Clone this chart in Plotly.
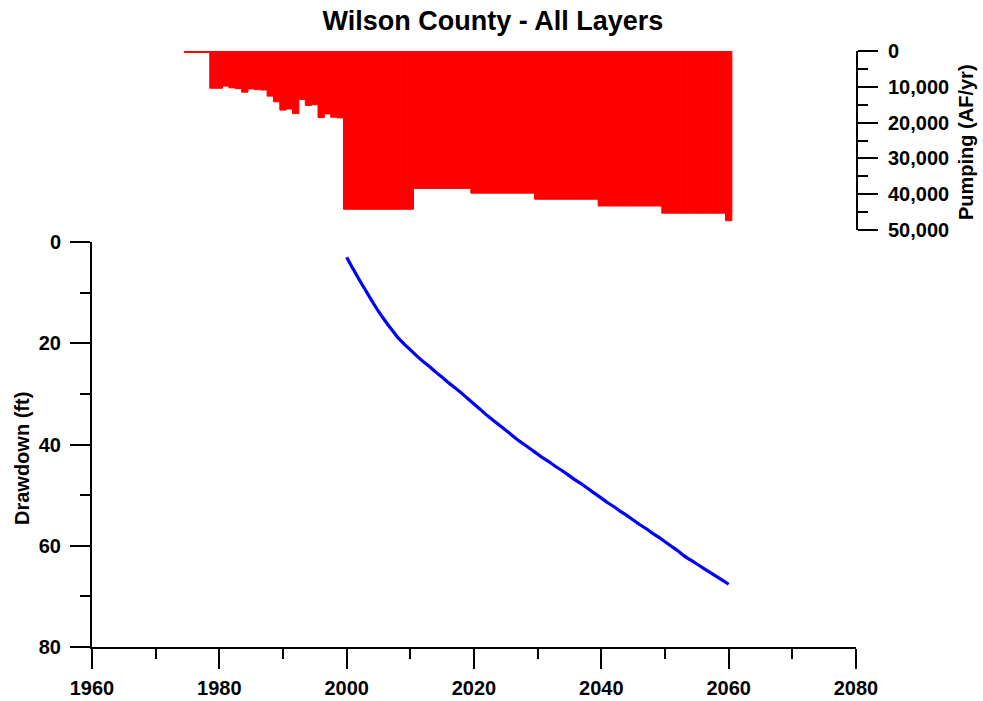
import plotly.graph_objects as go

# ---- Data ----
pump_years = list(range(1975, 2061))
pump_values = [
    400, 400, 400, 400,                 # 1975-1978
    10400, 10400, 9800, 10300, 10500,   # 1979-1983
    11500, 10600, 10800, 10900, 12600,  # 1984-1988
    14200, 16500, 16200, 17500, 13500,  # 1989-1993
    15200, 15000, 18600, 17600, 18500,  # 1994-1998
    18700,                              # 1999
] + [44200] * 11 + [38400] * 9 + [39700] * 10 + [41400] * 10 + [43300] * 10 + [45300] * 10 + [47400]

dd_years = list(range(2000, 2061))
dd_values = [
    3.0, 5.3, 7.5, 9.6, 11.7, 13.7, 15.5, 17.2, 18.8, 20.1,
    21.3, 22.5, 23.6, 24.6, 25.7, 26.7, 27.8, 28.8, 29.8, 30.9,
    32.0, 33.1, 34.2, 35.2, 36.2, 37.2, 38.2, 39.2, 40.1, 41.0,
    41.9, 42.8, 43.6, 44.5, 45.3, 46.2, 47.1, 47.9, 48.8, 49.7,
    50.6, 51.5, 52.3, 53.2, 54.0, 54.9, 55.8, 56.6, 57.5, 58.3,
    59.2, 60.1, 61.0, 62.0, 62.8, 63.6, 64.4, 65.2, 66.0, 66.8,
    67.6,
]

title_text = "Wilson County - All Layers"
left_title = "Drawdown (ft)"
right_title = "Pumping (AF/yr)"
FONT = "Liberation Sans"

fig = go.Figure()
fig.add_trace(go.Bar(
    x=pump_years, y=pump_values, width=1,
    marker=dict(color="#FF0000", line=dict(color="#FF0000", width=1)),
    xaxis="x2", yaxis="y2", showlegend=False,
))
fig.add_trace(go.Scatter(
    x=dd_years, y=dd_values, mode="lines",
    line=dict(color="#0000FF", width=3.2, shape="spline", smoothing=0.8),
    xaxis="x", yaxis="y", showlegend=False,
))

tickfont = dict(family=FONT, size=20, color="black", weight="bold")
titlefont = dict(family=FONT, size=20, color="black", weight="bold")

W, H = 983, 701
L, R, T, B = 92, W - 856, 51, H - 647
plot_w = W - L - R
plot_h = H - T - B
base = 647
dom_bottom_top = (base - 242) / plot_h
dom_top_bottom = (base - 230) / plot_h


def px(xp):
    return (xp - L) / plot_w


def py(yp):
    return (base - yp) / plot_h


fig.update_layout(
    width=W, height=H,
    margin=dict(l=L, r=R, t=T, b=B, autoexpand=False),
    paper_bgcolor="white", plot_bgcolor="white",
    title=dict(text=title_text, x=493 / W, xanchor="center", y=1 - 21 / H, yanchor="middle",
               font=dict(family=FONT, size=27, color="black", weight="bold")),
    xaxis=dict(
        domain=[0, 1], range=[1960, 2080], dtick=20, tick0=1960,
        showgrid=False, zeroline=False, showline=True, linecolor="black", linewidth=2,
        ticks="outside", ticklen=20, tickwidth=2, tickcolor="black",
        minor=dict(dtick=10, ticks="outside", ticklen=10, tickwidth=2, tickcolor="black", showgrid=False),
        tickfont=tickfont, ticklabelstandoff=2, anchor="y", automargin=False,
    ),
    yaxis=dict(
        domain=[0, dom_bottom_top], range=[80, 0], dtick=20, tick0=0,
        showgrid=False, zeroline=False, showline=True, linecolor="black", linewidth=2,
        ticks="outside", ticklen=20, tickwidth=2, tickcolor="black",
        minor=dict(dtick=10, ticks="outside", ticklen=10, tickwidth=2, tickcolor="black", showgrid=False),
        tickfont=tickfont, ticklabelstandoff=5, anchor="x", automargin=False,
    ),
    xaxis2=dict(domain=[0, 1], range=[1960, 2080], visible=False, anchor="y2"),
    yaxis2=dict(
        domain=[dom_top_bottom, 1], range=[50000, 0], dtick=10000, tick0=0,
        side="right", anchor="x2", automargin=False,
        showgrid=False, zeroline=False, showline=True, linecolor="black", linewidth=2,
        ticks="outside", ticklen=20, tickwidth=2, tickcolor="black",
        minor=dict(dtick=5000, ticks="outside", ticklen=10, tickwidth=2, tickcolor="black", showgrid=False),
        tickformat=",d", tickfont=tickfont, ticklabelstandoff=6,
    ),
    annotations=[
        dict(text=left_title, xref="paper", yref="paper", x=px(22), y=py(459),
             xanchor="center", yanchor="middle", textangle=-90, showarrow=False, font=titlefont),
        dict(text=right_title, xref="paper", yref="paper", x=px(966), y=py(142),
             xanchor="center", yanchor="middle", textangle=-90, showarrow=False, font=titlefont),
    ],
)

fig.write_html(
    "out.html",
    config={"displayModeBar": False},
    post_script="document.body.style.margin='0';document.body.style.overflow='hidden';",
)
